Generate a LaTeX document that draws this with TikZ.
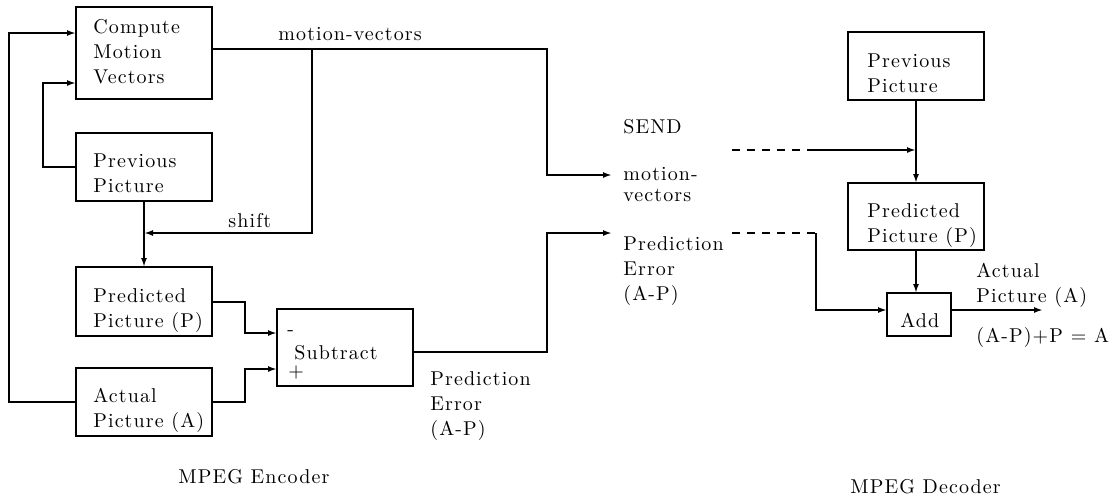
\documentclass[tikz,border=0pt]{standalone}
\usepackage{fontspec}
\setmainfont{Latin Modern Roman}[LetterSpace=5.5]
\usetikzlibrary{arrows.meta}
\begin{document}
\begin{tikzpicture}[x=0.5pt,y=-0.5pt,
  box/.style={draw,line width=1.3pt,inner sep=0pt,outer sep=0pt,anchor=north west,minimum width=68pt},
  txt/.style={anchor=base west,inner sep=0pt,align=left,font=\fontsize{10}{12.5}\selectfont},
  conn/.style={line width=1pt},
  arr/.style={line width=1pt,-{Latex[length=4.5pt,width=3pt]}},
  dsh/.style={line width=1pt,dash pattern=on 4pt off 3.5pt}]
\useasboundingbox (0,0) rectangle (1120,500);
% ---------- encoder boxes
\node[box,minimum height=46pt] (cmv) at (76,7) {};
\node[box,minimum height=34pt] (prevE) at (76,133) {};
\node[box,minimum height=34.5pt] (predE) at (76,267) {};
\node[box,minimum height=34pt] (actE) at (76,368) {};
\node[box,minimum height=38.5pt] (sub) at (277,309) {};
% ---------- decoder boxes
\node[box,minimum height=34pt] (prevD) at (848,32) {};
\node[box,minimum height=33.5pt] (predD) at (848,183) {};
\node[box,minimum height=21.5pt,minimum width=32pt] (add) at (887,293) {};
% ---------- texts (anchor = baseline of the last line)
\node[txt] (tcmv) at (93,83) {Compute\\Motion\\Vectors};
\node[txt] (tprevE) at (93,192) {Previous\\Picture};
\node[txt] (tpredE) at (93,327) {Predicted\\Picture (P)};
\node[txt] (tactE) at (93,427) {Actual\\Picture (A)};
\node[txt] (tminus) at (287,335) {-};
\node[txt] (tsub) at (294,359) {Subtract};
\node[txt] (tplus) at (288,377) {$+$};
\node[txt] (tpeE) at (430,435) {Prediction\\Error\\(A-P)};
\node[txt] (tenc) at (178,483) {MPEG Encoder};
\node[txt] (tmv) at (278,40) {motion-vectors};
\node[txt] (tshift) at (228,227) {shift};
\node[txt] (tsend) at (623,133) {SEND};
\node[txt] (tsmv) at (623,201) {motion-\\[-2pt]vectors};
\node[txt] (tspe) at (623,300) {Prediction\\Error\\(A-P)};
\node[txt] (tprevD) at (867,92) {Previous\\Picture};
\node[txt] (tpredD) at (867,242) {Predicted\\Picture (P)};
\node[txt] (tadd) at (900,327) {Add};
\node[txt] (tact) at (976,302) {Actual\\Picture (A)};
\node[txt] (teq) at (976,342) {(A-P)+P = A};
\node[txt] (tdec) at (850,493) {MPEG Decoder};
% ---------- coordinates
\coordinate (j) at (312,49);
\coordinate (sendmv) at (612,175);
\coordinate (sendpe) at (612,233);
\coordinate (d1) at (732,150);
\coordinate (d1e) at (807,150);
\coordinate (d2) at (732,233);
\coordinate (d2e) at (816,233);
\coordinate (out) at (1043,310);
% ---------- encoder connectors
\draw[arr] (actE.west) -| (9,33) -- (cmv.west |- 0,33);
\draw[arr] (prevE.west) -| (43,83) -- (cmv.west |- 0,83);
\draw[arr] (cmv.east |- j) -- (547,49) |- (sendmv);
\draw[arr] (j) |- (prevE.south |- 0,233);
\draw[arr] (prevE.south) -- (predE.north);
\draw[arr] (predE.east) -| (245,333) -- (sub.west |- 0,333);
\draw[arr] (actE.east) -| (245,369) -- (sub.west |- 0,369);
\draw[arr] (sub.east |- 0,352) -- (547,352) |- (sendpe);
% ---------- decoder connectors
\draw[dsh] (d1) -- (d1e);
\draw[arr] (d1e) -- (prevD.south |- d1e);
\draw[arr] (prevD.south) -- (predD.north);
\draw[dsh] (d2) -- (d2e);
\draw[arr] (d2e) |- (add.west |- 0,310);
\draw[arr] (predD.south) -- (predD.south |- add.north);
\draw[arr] (add.east |- out) -- (out);
\end{tikzpicture}
\end{document}
